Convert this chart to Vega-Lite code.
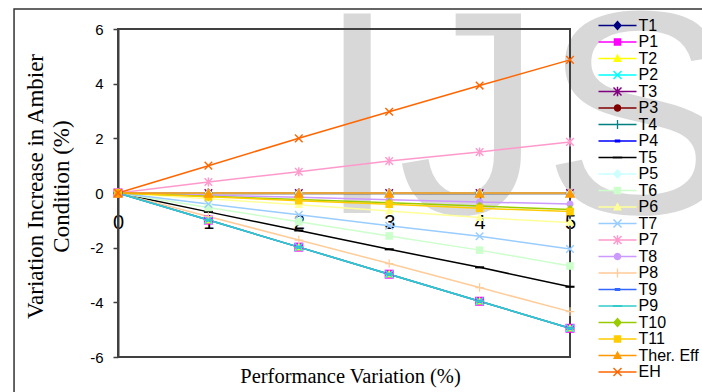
{
  "$schema": "https://vega.github.io/schema/vega-lite/v6.json",
  "width": 452,
  "height": 328,
  "autosize": {"type": "none"},
  "padding": {"left": 118, "top": 29, "right": 132, "bottom": 35},
  "background": "white",
  "config": {
    "view": {"stroke": null}
  },
  "datasets": {
    "series": [
      {"s":"T1","x":0,"y":0},{"s":"T1","x":1,"y":0},{"s":"T1","x":2,"y":0},{"s":"T1","x":3,"y":0},{"s":"T1","x":4,"y":0},{"s":"T1","x":5,"y":0},
      {"s":"P1","x":0,"y":0},{"s":"P1","x":1,"y":-0.99},{"s":"P1","x":2,"y":-1.98},{"s":"P1","x":3,"y":-2.97},{"s":"P1","x":4,"y":-3.96},{"s":"P1","x":5,"y":-4.95},
      {"s":"T2","x":0,"y":0},{"s":"T2","x":1,"y":-0.99},{"s":"T2","x":2,"y":-1.98},{"s":"T2","x":3,"y":-2.97},{"s":"T2","x":4,"y":-3.96},{"s":"T2","x":5,"y":-4.95},
      {"s":"P2","x":0,"y":0},{"s":"P2","x":1,"y":-0.99},{"s":"P2","x":2,"y":-1.98},{"s":"P2","x":3,"y":-2.97},{"s":"P2","x":4,"y":-3.96},{"s":"P2","x":5,"y":-4.95},
      {"s":"T3","x":0,"y":0},{"s":"T3","x":1,"y":0},{"s":"T3","x":2,"y":0},{"s":"T3","x":3,"y":0},{"s":"T3","x":4,"y":0},{"s":"T3","x":5,"y":0},
      {"s":"P3","x":0,"y":0},{"s":"P3","x":1,"y":0},{"s":"P3","x":2,"y":0},{"s":"P3","x":3,"y":0},{"s":"P3","x":4,"y":0},{"s":"P3","x":5,"y":0},
      {"s":"T4","x":0,"y":0},{"s":"T4","x":1,"y":0},{"s":"T4","x":2,"y":0},{"s":"T4","x":3,"y":0},{"s":"T4","x":4,"y":0},{"s":"T4","x":5,"y":0},
      {"s":"P4","x":0,"y":0},{"s":"P4","x":1,"y":0},{"s":"P4","x":2,"y":0},{"s":"P4","x":3,"y":0},{"s":"P4","x":4,"y":0},{"s":"P4","x":5,"y":0},
      {"s":"T5","x":0,"y":0},{"s":"T5","x":1,"y":-0.69},{"s":"T5","x":2,"y":-1.37},{"s":"T5","x":3,"y":-2.06},{"s":"T5","x":4,"y":-2.72},{"s":"T5","x":5,"y":-3.43},
      {"s":"P5","x":0,"y":0},{"s":"P5","x":1,"y":0},{"s":"P5","x":2,"y":0},{"s":"P5","x":3,"y":0},{"s":"P5","x":4,"y":0},{"s":"P5","x":5,"y":0},
      {"s":"T6","x":0,"y":0},{"s":"T6","x":1,"y":-0.53},{"s":"T6","x":2,"y":-1.05},{"s":"T6","x":3,"y":-1.57},{"s":"T6","x":4,"y":-2.09},{"s":"T6","x":5,"y":-2.67},
      {"s":"P6","x":0,"y":0},{"s":"P6","x":1,"y":-0.21},{"s":"P6","x":2,"y":-0.43},{"s":"P6","x":3,"y":-0.66},{"s":"P6","x":4,"y":-0.9},{"s":"P6","x":5,"y":-1.08},
      {"s":"T7","x":0,"y":0},{"s":"T7","x":1,"y":-0.4},{"s":"T7","x":2,"y":-0.8},{"s":"T7","x":3,"y":-1.2},{"s":"T7","x":4,"y":-1.58},{"s":"T7","x":5,"y":-2.05},
      {"s":"P7","x":0,"y":0},{"s":"P7","x":1,"y":0.4},{"s":"P7","x":2,"y":0.78},{"s":"P7","x":3,"y":1.17},{"s":"P7","x":4,"y":1.5},{"s":"P7","x":5,"y":1.87},
      {"s":"T8","x":0,"y":0},{"s":"T8","x":1,"y":-0.08},{"s":"T8","x":2,"y":-0.16},{"s":"T8","x":3,"y":-0.25},{"s":"T8","x":4,"y":-0.33},{"s":"T8","x":5,"y":-0.4},
      {"s":"P8","x":0,"y":0},{"s":"P8","x":1,"y":-0.86},{"s":"P8","x":2,"y":-1.72},{"s":"P8","x":3,"y":-2.58},{"s":"P8","x":4,"y":-3.46},{"s":"P8","x":5,"y":-4.34},
      {"s":"T9","x":0,"y":0},{"s":"T9","x":1,"y":-0.99},{"s":"T9","x":2,"y":-1.98},{"s":"T9","x":3,"y":-2.97},{"s":"T9","x":4,"y":-3.96},{"s":"T9","x":5,"y":-4.95},
      {"s":"P9","x":0,"y":0},{"s":"P9","x":1,"y":-0.99},{"s":"P9","x":2,"y":-1.98},{"s":"P9","x":3,"y":-2.97},{"s":"P9","x":4,"y":-3.96},{"s":"P9","x":5,"y":-4.95},
      {"s":"T10","x":0,"y":0},{"s":"T10","x":1,"y":-0.12},{"s":"T10","x":2,"y":-0.24},{"s":"T10","x":3,"y":-0.36},{"s":"T10","x":4,"y":-0.48},{"s":"T10","x":5,"y":-0.6},
      {"s":"T11","x":0,"y":0},{"s":"T11","x":1,"y":-0.14},{"s":"T11","x":2,"y":-0.28},{"s":"T11","x":3,"y":-0.41},{"s":"T11","x":4,"y":-0.56},{"s":"T11","x":5,"y":-0.68},
      {"s":"Ther. Eff","x":0,"y":0},{"s":"Ther. Eff","x":1,"y":0},{"s":"Ther. Eff","x":2,"y":0},{"s":"Ther. Eff","x":3,"y":0},{"s":"Ther. Eff","x":4,"y":0},{"s":"Ther. Eff","x":5,"y":0},
      {"s":"EH","x":0,"y":0},{"s":"EH","x":1,"y":1.0},{"s":"EH","x":2,"y":2.0},{"s":"EH","x":3,"y":2.97},{"s":"EH","x":4,"y":3.93},{"s":"EH","x":5,"y":4.87}
    ]
  },
  "layer": [
    {
      "data": {"values": [{"w": "IJS"}]},
      "mark": {"type": "text", "font": "Liberation Sans", "fontSize": 290, "align": "left", "baseline": "alphabetic", "color": "#000", "opacity": 0.15},
      "encoding": {
        "x": {"datum": 2.2, "type": "quantitative", "scale": {"domain": [0, 5], "nice": false, "zero": false}},
        "y": {"datum": -0.73, "type": "quantitative", "scale": {"domain": [-6, 6], "nice": false, "zero": false}},
        "text": {"field": "w"}
      }
    },
    {
      "data": {"values": [{"k": "plot"}]},
      "mark": {"type": "rect", "filled": false, "color": "#404040", "strokeWidth": 2},
      "encoding": {
        "x": {"datum": 0, "type": "quantitative", "scale": {"domain": [0, 5], "nice": false, "zero": false}},
        "x2": {"datum": 5},
        "y": {"datum": 6, "type": "quantitative", "scale": {"domain": [-6, 6], "nice": false, "zero": false}},
        "y2": {"datum": -6}
      }
    },
    {
      "data": {"values": [{"k": "frame"}]},
      "mark": {"type": "rect", "filled": false, "color": "#333", "strokeWidth": 1.5},
      "encoding": {
        "x": {"datum": -1.15, "type": "quantitative", "scale": {"domain": [0, 5], "nice": false, "zero": false}},
        "x2": {"datum": 7},
        "y": {"datum": 6.73, "type": "quantitative", "scale": {"domain": [-6, 6], "nice": false, "zero": false}},
        "y2": {"datum": -8}
      }
    },
    {
      "data": {"name": "series"},
      "mark": {"type": "line", "strokeWidth": 1.5},
      "encoding": {
        "x": {
          "field": "x", "type": "quantitative",
          "scale": {"domain": [0, 5], "nice": false, "zero": false},
          "axis": {
            "values": [0, 1, 2, 3, 4, 5], "labelExpr": "'' + datum.value", "offset": -164, "grid": false,
            "domainColor": "#000", "domainWidth": 1.5, "tickColor": "#000", "tickSize": 5, "tickWidth": 1.5,
            "labelFont": "Liberation Sans", "labelFontSize": 20, "labelColor": "#000", "labelPadding": 14, "labelFlush": false, "labelOverlap": false,
            "title": "Performance Variation (%)", "titleFont": "Liberation Serif", "titleFontSize": 20.5, "titleFontWeight": "normal", "titleColor": "#000",
            "titleBaseline": "alphabetic", "titleX": 232, "titleY": 189
          }
        },
        "y": {
          "field": "y", "type": "quantitative",
          "scale": {"domain": [-6, 6], "nice": false, "zero": false},
          "axis": {
            "values": [-6, -4, -2, 0, 2, 4, 6], "labelExpr": "'' + datum.value", "grid": false,
            "domainColor": "#404040", "domainWidth": 2, "tickColor": "#404040", "tickSize": 5, "tickWidth": 1.5,
            "labelFont": "Liberation Sans", "labelFontSize": 15, "labelColor": "#000", "labelPadding": 10, "labelFlush": false, "labelOverlap": false,
            "title": ["Variation Increase in Ambier", "Condition (%)"], "titleFont": "Liberation Serif", "titleFontSize": 23, "titleFontWeight": "normal",
            "titleColor": "#000", "titleLineHeight": 26, "titlePadding": 16, "titleY": 157
          }
        },
        "color": {
          "field": "s", "type": "nominal", "legend": null,
          "scale": {
            "domain": ["T1","P1","T2","P2","T3","P3","T4","P4","T5","P5","T6","P6","T7","P7","T8","P8","T9","P9","T10","T11","Ther. Eff","EH"],
            "range": ["#000080","#FF00FF","#FFFF00","#00FFFF","#800080","#800000","#008080","#0000FF","#000000","#CCFFFF","#CCFFCC","#FFFF99","#99CCFF","#FF99CC","#CC99FF","#FFCC99","#3366FF","#33CCCC","#99CC00","#FFCC00","#FF9900","#FF6600"]
          }
        }
      }
    },
    {
      "data": {"name": "series"},
      "mark": {"type": "point", "filled": true, "size": 90, "opacity": 1, "strokeWidth": 0},
      "encoding": {
        "x": {"field": "x", "type": "quantitative", "scale": {"domain": [0, 5], "nice": false, "zero": false}},
        "y": {"field": "y", "type": "quantitative", "scale": {"domain": [-6, 6], "nice": false, "zero": false}},
        "color": {
          "field": "s", "type": "nominal", "legend": null,
          "scale": {
            "domain": ["T1","P1","T2","P2","T3","P3","T4","P4","T5","P5","T6","P6","T7","P7","T8","P8","T9","P9","T10","T11","Ther. Eff","EH"],
            "range": ["#000080","#FF00FF","#FFFF00","#00FFFF","#800080","#800000","#008080","#0000FF","#000000","#CCFFFF","#CCFFCC","#FFFF99","#99CCFF","#FF99CC","#CC99FF","#FFCC99","#3366FF","#33CCCC","#99CC00","#FFCC00","#FF9900","#FF6600"]
          }
        },
        "shape": {
          "field": "s", "type": "nominal", "legend": null,
          "scale": {
            "domain": ["T1","P1","T2","P2","T3","P3","T4","P4","T5","P5","T6","P6","T7","P7","T8","P8","T9","P9","T10","T11","Ther. Eff","EH"],
            "range": [
              "M0,-1L0.9,0L0,1L-0.9,0Z",
              "M-0.95,-0.95H0.95V0.95H-0.95Z",
              "M0,-0.95L0.9,0.7H-0.9Z",
              "M-0.694,-0.906L0.906,0.694L0.694,0.906L-0.906,-0.694ZM-0.694,0.906L-0.906,0.694L0.694,-0.906L0.906,-0.694Z",
              "M-0.694,-0.906L0.906,0.694L0.694,0.906L-0.906,-0.694ZM-0.694,0.906L-0.906,0.694L0.694,-0.906L0.906,-0.694ZM-0.15,-0.95H0.15V0.95H-0.15Z",
              "M0.75,0A0.75,0.75 0 1 1 -0.75,0A0.75,0.75 0 1 1 0.75,0Z",
              "M-0.13,-0.9H0.13V0.9H-0.13ZM-0.9,-0.13H0.9V0.13H-0.9Z",
              "M-0.55,-0.28H0.55V0.28H-0.55Z",
              "M-0.95,-0.22H0.95V0.22H-0.95Z",
              "M0,-1L0.9,0L0,1L-0.9,0Z",
              "M-0.8,-0.8H0.8V0.8H-0.8Z",
              "M0,-0.95L0.9,0.7H-0.9Z",
              "M-0.694,-0.906L0.906,0.694L0.694,0.906L-0.906,-0.694ZM-0.694,0.906L-0.906,0.694L0.694,-0.906L0.906,-0.694Z",
              "M-0.694,-0.906L0.906,0.694L0.694,0.906L-0.906,-0.694ZM-0.694,0.906L-0.906,0.694L0.694,-0.906L0.906,-0.694ZM-0.15,-0.95H0.15V0.95H-0.15Z",
              "M0.75,0A0.75,0.75 0 1 1 -0.75,0A0.75,0.75 0 1 1 0.75,0Z",
              "M-0.13,-0.9H0.13V0.9H-0.13ZM-0.9,-0.13H0.9V0.13H-0.9Z",
              "M-0.55,-0.28H0.55V0.28H-0.55Z",
              "M-0.95,-0.22H0.95V0.22H-0.95Z",
              "M0,-1L0.9,0L0,1L-0.9,0Z",
              "M-0.8,-0.8H0.8V0.8H-0.8Z",
              "M0,-1.08L1.08,1.02H-1.08Z",
              "M-0.694,-0.906L0.906,0.694L0.694,0.906L-0.906,-0.694ZM-0.694,0.906L-0.906,0.694L0.694,-0.906L0.906,-0.694Z"
            ]
          }
        }
      }
    },
    {
      "data": {"name": "series"},
      "mark": {"type": "point", "filled": true, "opacity": 0},
      "encoding": {
        "x": {"field": "x", "type": "quantitative", "scale": {"domain": [0, 5], "nice": false, "zero": false}},
        "y": {"field": "y", "type": "quantitative", "scale": {"domain": [-6, 6], "nice": false, "zero": false}},
        "color": {
          "field": "s", "type": "nominal",
          "legend": {
            "title": null, "orient": "none", "legendX": 481, "legendY": -11.5, "padding": 0,
            "symbolSize": 100, "symbolStrokeWidth": 0, "symbolOffset": 10.5, "symbolOpacity": 1,
            "labelOffset": 13, "labelFont": "Liberation Sans", "labelFontSize": 16, "labelColor": "#000", "labelLimit": 200,
            "rowPadding": 0.5
          },
          "scale": {
            "domain": ["T1","P1","T2","P2","T3","P3","T4","P4","T5","P5","T6","P6","T7","P7","T8","P8","T9","P9","T10","T11","Ther. Eff","EH"],
            "range": ["#000080","#FF00FF","#FFFF00","#00FFFF","#800080","#800000","#008080","#0000FF","#000000","#CCFFFF","#CCFFCC","#FFFF99","#99CCFF","#FF99CC","#CC99FF","#FFCC99","#3366FF","#33CCCC","#99CC00","#FFCC00","#FF9900","#FF6600"]
          }
        },
        "shape": {
          "field": "s", "type": "nominal",
          "legend": {
            "title": null, "orient": "none", "legendX": 481, "legendY": -11.5, "padding": 0,
            "symbolSize": 100, "symbolStrokeWidth": 0, "symbolOffset": 10.5, "symbolOpacity": 1,
            "labelOffset": 13, "labelFont": "Liberation Sans", "labelFontSize": 16, "labelColor": "#000", "labelLimit": 200,
            "rowPadding": 0.5
          },
          "scale": {
            "domain": ["T1","P1","T2","P2","T3","P3","T4","P4","T5","P5","T6","P6","T7","P7","T8","P8","T9","P9","T10","T11","Ther. Eff","EH"],
            "range": [
              "M-3.8,-0.15H3.8V0.15H-3.8ZM0,-1L0.9,0L0,1L-0.9,0Z",
              "M-3.8,-0.15H3.8V0.15H-3.8ZM-0.75,-0.75H0.75V0.75H-0.75Z",
              "M-3.8,-0.15H3.8V0.15H-3.8ZM0,-0.95L0.9,0.7H-0.9Z",
              "M-3.8,-0.15H3.8V0.15H-3.8ZM-0.694,-0.906L0.906,0.694L0.694,0.906L-0.906,-0.694ZM-0.694,0.906L-0.906,0.694L0.694,-0.906L0.906,-0.694Z",
              "M-3.8,-0.15H3.8V0.15H-3.8ZM-0.694,-0.906L0.906,0.694L0.694,0.906L-0.906,-0.694ZM-0.694,0.906L-0.906,0.694L0.694,-0.906L0.906,-0.694ZM-0.15,-0.95H0.15V0.95H-0.15Z",
              "M-3.8,-0.15H3.8V0.15H-3.8ZM0.75,0A0.75,0.75 0 1 1 -0.75,0A0.75,0.75 0 1 1 0.75,0Z",
              "M-3.8,-0.15H3.8V0.15H-3.8ZM-0.13,-0.9H0.13V0.9H-0.13Z",
              "M-3.8,-0.15H3.8V0.15H-3.8ZM-0.55,-0.28H0.55V0.28H-0.55Z",
              "M-3.8,-0.15H3.8V0.15H-3.8ZM-0.95,-0.22H0.95V0.22H-0.95Z",
              "M-3.8,-0.15H3.8V0.15H-3.8ZM0,-1L0.9,0L0,1L-0.9,0Z",
              "M-3.8,-0.15H3.8V0.15H-3.8ZM-0.75,-0.75H0.75V0.75H-0.75Z",
              "M-3.8,-0.15H3.8V0.15H-3.8ZM0,-0.95L0.9,0.7H-0.9Z",
              "M-3.8,-0.15H3.8V0.15H-3.8ZM-0.694,-0.906L0.906,0.694L0.694,0.906L-0.906,-0.694ZM-0.694,0.906L-0.906,0.694L0.694,-0.906L0.906,-0.694Z",
              "M-3.8,-0.15H3.8V0.15H-3.8ZM-0.694,-0.906L0.906,0.694L0.694,0.906L-0.906,-0.694ZM-0.694,0.906L-0.906,0.694L0.694,-0.906L0.906,-0.694ZM-0.15,-0.95H0.15V0.95H-0.15Z",
              "M-3.8,-0.15H3.8V0.15H-3.8ZM0.75,0A0.75,0.75 0 1 1 -0.75,0A0.75,0.75 0 1 1 0.75,0Z",
              "M-3.8,-0.15H3.8V0.15H-3.8ZM-0.13,-0.9H0.13V0.9H-0.13Z",
              "M-3.8,-0.15H3.8V0.15H-3.8ZM-0.55,-0.28H0.55V0.28H-0.55Z",
              "M-3.8,-0.15H3.8V0.15H-3.8ZM-0.95,-0.22H0.95V0.22H-0.95Z",
              "M-3.8,-0.15H3.8V0.15H-3.8ZM0,-1L0.9,0L0,1L-0.9,0Z",
              "M-3.8,-0.15H3.8V0.15H-3.8ZM-0.75,-0.75H0.75V0.75H-0.75Z",
              "M-3.8,-0.15H3.8V0.15H-3.8ZM0,-0.95L0.9,0.7H-0.9Z",
              "M-3.8,-0.15H3.8V0.15H-3.8ZM-0.694,-0.906L0.906,0.694L0.694,0.906L-0.906,-0.694ZM-0.694,0.906L-0.906,0.694L0.694,-0.906L0.906,-0.694Z"
            ]
          }
        }
      }
    }
  ],
  "resolve": {"scale": {"color": "independent", "shape": "independent"}}
}
